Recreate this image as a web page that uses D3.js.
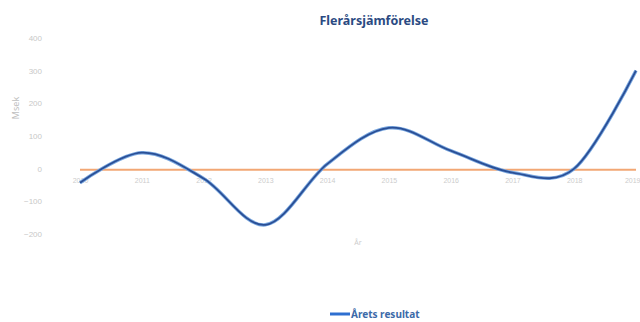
<!DOCTYPE html>
<html>
<head>
<meta charset="utf-8">
<script src="https://cdn.jsdelivr.net/npm/d3@7"></script>
<style>
  body { margin: 0; background: #fff; }
  svg { display: block; font-family: "Noto Sans", sans-serif; }
</style>
</head>
<body>
<div id="chart"></div>
<script>
// Categories (years, hard to read in the source)
const years = ["2010", "2011", "2012", "2013", "2014", "2015", "2016", "2017", "2018", "2019"];
// Årets resultat (Msek)
const result = [-43, 49, -30, -172, 14, 125, 55, -12, 0, 300];
// flat orange reference line
const baseline = [-3, -3, -3, -3, -3, -3, -3, -3, -3, -3];
const yTicks = [400, 300, 200, 100, 0, -100, -200];

const width = 640, height = 322;
const margin = {top: 38, right: 4, bottom: 88, left: 80};

const svg = d3.select("#chart").append("svg")
    .attr("width", width)
    .attr("height", height);

const x = d3.scalePoint()
    .domain(years)
    .range([margin.left, width - margin.right]);

const y = d3.scaleLinear()
    .domain([-200, 400])
    .range([234, 38]);

// title
svg.append("text")
    .attr("x", 374)
    .attr("y", 25)
    .attr("text-anchor", "middle")
    .style("font-size", "12.5px")
    .style("font-weight", "bold")
    .style("fill", "#2b4a82")
    .text("Flerårsjämförelse");

// y axis (labels only)
const yAxis = svg.append("g")
    .attr("transform", "translate(42,0)")
    .call(d3.axisLeft(y).tickValues(yTicks).tickSize(0).tickPadding(0));
yAxis.select(".domain").remove();
yAxis.selectAll("text")
    .style("font-size", "8px")
    .style("fill", "#c8c8c8");

// x axis (labels only)
const xAxis = svg.append("g")
    .attr("transform", "translate(0,178)")
    .call(d3.axisBottom(x).tickSize(0).tickPadding(0));
xAxis.select(".domain").remove();
xAxis.selectAll("text")
    .style("font-size", "7px")
    .style("fill", "#cccccc");
// keep the last label inside the picture
xAxis.selectAll(".tick:last-of-type text").attr("text-anchor", "end").attr("dx", 4);

// axis titles
svg.append("text")
    .attr("transform", "translate(19,108) rotate(-90)")
    .attr("text-anchor", "middle")
    .style("font-size", "9px")
    .style("fill", "#c0c0c0")
    .text("Msek");

svg.append("text")
    .attr("x", 358)
    .attr("y", 245)
    .attr("text-anchor", "middle")
    .style("font-size", "7px")
    .style("fill", "#cccccc")
    .text("År");

// orange line
const line = d3.line()
    .x((d, i) => x(years[i]))
    .y(d => y(d));

svg.append("path")
    .datum(baseline)
    .attr("fill", "none")
    .attr("stroke", "#f2a774")
    .attr("stroke-width", 2)
    .attr("d", line);

// blue smoothed line
const smooth = d3.line()
    .x((d, i) => x(years[i]))
    .y(d => y(d))
    .curve(d3.curveCardinal.tension(0));

svg.append("path")
    .datum(result)
    .attr("fill", "none")
    .attr("stroke", "#7aa8e0")
    .attr("stroke-width", 3.5)
    .attr("d", smooth);

svg.append("path")
    .datum(result)
    .attr("fill", "none")
    .attr("stroke", "#2a4f96")
    .attr("stroke-width", 1.8)
    .attr("d", smooth);

// legend
svg.append("line")
    .attr("x1", 330).attr("x2", 350)
    .attr("y1", 314).attr("y2", 314)
    .attr("stroke", "#2f6fd0")
    .attr("stroke-width", 3);

svg.append("text")
    .attr("x", 351)
    .attr("y", 318)
    .style("font-size", "10px")
    .style("font-weight", "bold")
    .style("fill", "#3c6aa8")
    .text("Årets resultat");
</script>
</body>
</html>
